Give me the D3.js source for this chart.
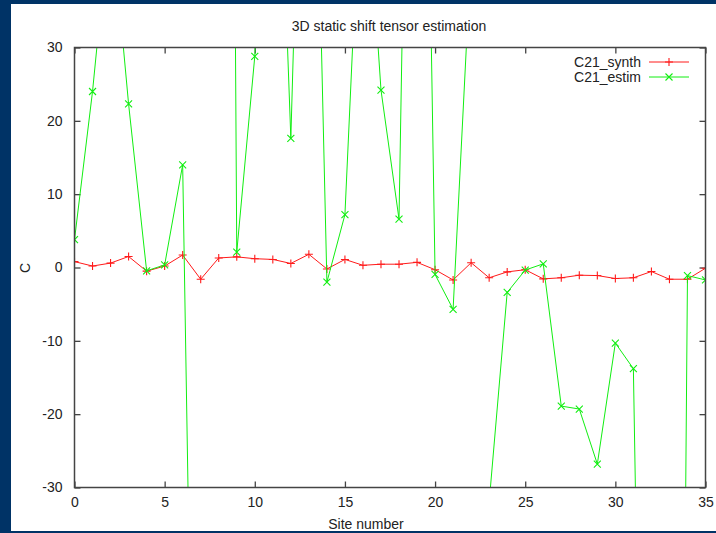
<!DOCTYPE html>
<html>
<head>
<meta charset="utf-8">
<script src="https://cdn.jsdelivr.net/npm/d3@7"></script>
<style>
  html, body { margin: 0; padding: 0; background: #003366; }
  svg { display: block; }
  text { font-family: "Liberation Sans", Arial, sans-serif; fill: #222; }
</style>
</head>
<body>
<svg id="chart" width="716" height="533"></svg>
<script>
// site numbers 0..35
const sites = d3.range(0, 36);

// C21 synthetic (red, +)
const c21Synth = [0.8, 0.2, 0.6, 1.5, -0.5, 0.2, 1.7, -1.6, 1.3, 1.45,
  1.2, 1.1, 0.55, 1.8, -0.2, 1.1, 0.3, 0.45, 0.45, 0.7,
  -0.3, -1.7, 0.65, -1.4, -0.6, -0.3, -1.55, -1.4, -1.05, -1.1,
  -1.5, -1.4, -0.55, -1.6, -1.6, -0.1];

// C21 estimated (green, x) - many values lie far outside the shown range
const c21Estim = [3.8, 24.0, 49, 22.3, -0.45, 0.35, 14.0, -135, 400, 2.1,
  28.8, 85, 17.6, 104, -2.0, 7.2, 61, 24.2, 6.6, 150,
  -0.95, -5.7, 43, -32, -3.4, -0.35, 0.5, -18.9, -19.3, -26.8,
  -10.3, -13.8, -160, -300, -1.1, -1.7];

const xTicks = [0, 5, 10, 15, 20, 25, 30, 35];
const yTicks = [-30, -20, -10, 0, 10, 20, 30];

const series = [
  { name: "C21_synth", values: c21Synth, color: "#ff1a1a", marker: "plus" },
  { name: "C21_estim", values: c21Estim, color: "#11ee11", marker: "cross" }
];

const svg = d3.select("#chart");

// white page panel
svg.append("rect")
  .attr("x", 11).attr("y", 4)
  .attr("width", 705).attr("height", 527)
  .attr("fill", "#ffffff");

const plot = { left: 74.5, right: 705.5, top: 47.5, bottom: 487.5 };

const x = d3.scaleLinear().domain([0, 35]).range([plot.left, plot.right]);
const y = d3.scaleLinear().domain([-30, 30]).range([plot.bottom, plot.top]);

svg.append("defs").append("clipPath").attr("id", "clip")
  .append("rect")
  .attr("x", plot.left).attr("y", plot.top)
  .attr("width", plot.right - plot.left).attr("height", plot.bottom - plot.top);

// plain hyphen minus like gnuplot
const fmt = d => String(d);

// axes (ticks inward, mirrored like gnuplot)
const tick = 6;
svg.append("g")
  .attr("transform", `translate(0,${plot.bottom})`)
  .call(d3.axisBottom(x).tickValues(xTicks).tickFormat(fmt).tickSizeInner(-tick).tickSizeOuter(0).tickPadding(10))
  .call(g => g.select(".domain").remove());
svg.append("g")
  .attr("transform", `translate(0,${plot.top})`)
  .call(d3.axisTop(x).tickValues(xTicks).tickSizeInner(-tick).tickSizeOuter(0).tickFormat(""))
  .call(g => g.select(".domain").remove());
svg.append("g")
  .attr("transform", `translate(${plot.left},0)`)
  .call(d3.axisLeft(y).tickValues(yTicks).tickFormat(fmt).tickSizeInner(-tick).tickSizeOuter(0).tickPadding(12))
  .call(g => g.select(".domain").remove());
svg.append("g")
  .attr("transform", `translate(${plot.right},0)`)
  .call(d3.axisRight(y).tickValues(yTicks).tickSizeInner(-tick).tickSizeOuter(0).tickFormat(""))
  .call(g => g.select(".domain").remove());

svg.selectAll(".tick line").attr("stroke", "#444").attr("stroke-width", 1.3);
svg.selectAll(".tick text")
  .attr("font-size", 14)
  .style("font-family", "'Liberation Sans', Arial, sans-serif")
  .attr("fill", "#222");

const lines = svg.append("g").attr("clip-path", "url(#clip)");

const inRange = v => v >= -30 && v <= 30;

series.forEach(s => {
  const pts = sites.map((site, i) => ({ site, v: s.values[i] }));
  // gnuplot style: skip segments whose two ends are both out of range
  const segs = d3.pairs(pts).filter(([a, b]) => inRange(a.v) || inRange(b.v));
  lines.selectAll(null)
    .data(segs)
    .enter().append("line")
    .attr("x1", d => x(d[0].site)).attr("y1", d => y(d[0].v))
    .attr("x2", d => x(d[1].site)).attr("y2", d => y(d[1].v))
    .attr("stroke", s.color).attr("stroke-width", 1);

  lines.selectAll(null)
    .data(pts.filter(p => inRange(p.v)))
    .enter().append("path")
    .attr("transform", d => `translate(${x(d.site)},${y(d.v)})`)
    .attr("d", s.marker === "plus" ? "M-4,0H4M0,-4V4" : "M-3.5,-3.5L3.5,3.5M-3.5,3.5L3.5,-3.5")
    .attr("stroke", s.color).attr("stroke-width", 1.1).attr("fill", "none");
});

// frame
svg.append("rect")
  .attr("x", plot.left).attr("y", plot.top)
  .attr("width", plot.right - plot.left).attr("height", plot.bottom - plot.top)
  .attr("fill", "none").attr("stroke", "#444").attr("stroke-width", 1.5);

// legend
const legend = svg.append("g");
series.forEach((s, i) => {
  const ly = 62 + i * 15;
  legend.append("text")
    .attr("x", 641).attr("y", ly + 5)
    .attr("text-anchor", "end").attr("font-size", 14)
    .text(s.name);
  legend.append("line")
    .attr("x1", 649).attr("x2", 689).attr("y1", ly).attr("y2", ly)
    .attr("stroke", s.color).attr("stroke-width", 1);
  legend.append("path")
    .attr("transform", `translate(669,${ly})`)
    .attr("d", s.marker === "plus" ? "M-4,0H4M0,-4V4" : "M-3.5,-3.5L3.5,3.5M-3.5,3.5L3.5,-3.5")
    .attr("stroke", s.color).attr("stroke-width", 1.1);
});

// title and axis labels
svg.append("text")
  .attr("x", 389).attr("y", 31)
  .attr("text-anchor", "middle").attr("font-size", 14)
  .text("3D static shift tensor estimation");
svg.append("text")
  .attr("x", 366).attr("y", 529)
  .attr("text-anchor", "middle").attr("font-size", 14)
  .text("Site number");
svg.append("text")
  .attr("transform", "translate(30,268) rotate(-90)")
  .attr("text-anchor", "middle").attr("font-size", 14)
  .text("C");
</script>
</body>
</html>
